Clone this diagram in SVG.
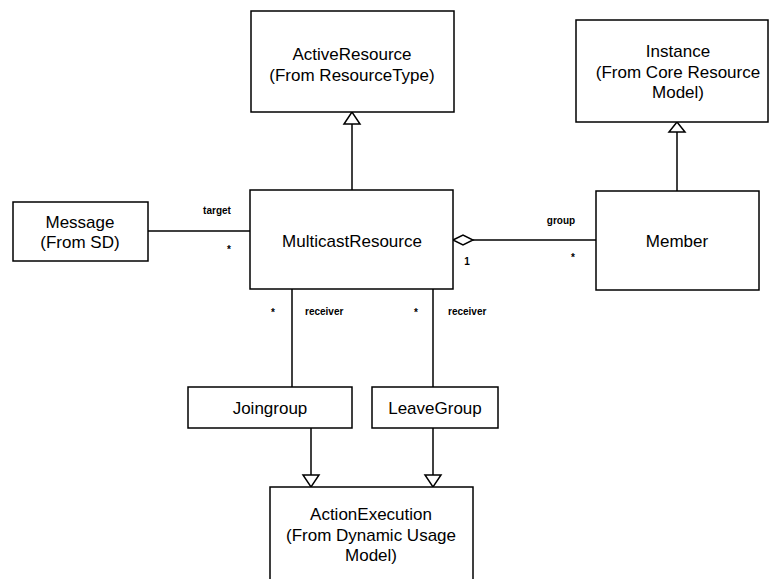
<svg xmlns="http://www.w3.org/2000/svg" width="770" height="579" viewBox="0 0 770 579">
<style>
.box{fill:#fff;stroke:#000;stroke-width:1.5}
.t{font-family:"Liberation Sans",Arial,sans-serif;font-size:17px;fill:#000;text-anchor:middle}
.s{font-family:"Liberation Sans",Arial,sans-serif;font-size:10px;font-weight:bold;fill:#000}
.ln{stroke:#000;stroke-width:1.5;fill:none}
.tri{fill:#fff;stroke:#000;stroke-width:1.5}
</style>
<rect width="770" height="579" fill="#fff"/>
<g id="connectors">
<line class="ln" x1="352" y1="124" x2="352" y2="190"/>
<polygon class="tri" points="352,112 344,124 360,124"/>
<line class="ln" x1="677" y1="132" x2="677" y2="191"/>
<polygon class="tri" points="677,122 669,132 685,132"/>
<line class="ln" x1="148" y1="231" x2="250" y2="231"/>
<line class="ln" x1="473" y1="240" x2="596" y2="240"/>
<polygon class="tri" points="453,240 463,235 473,240 463,245"/>
<line class="ln" x1="292" y1="289" x2="292" y2="387"/>
<line class="ln" x1="433" y1="289" x2="433" y2="387"/>
<line class="ln" x1="311" y1="428" x2="311" y2="475"/>
<polygon class="tri" points="303,475 319,475 311,487"/>
<line class="ln" x1="433" y1="428" x2="433" y2="475"/>
<polygon class="tri" points="425,475 441,475 433,487"/>
<text class="s" x="217" y="214" text-anchor="middle">target</text>
<text class="s" x="229" y="253" text-anchor="middle">*</text>
<text class="s" x="561" y="224" text-anchor="middle">group</text>
<text class="s" x="467" y="265" text-anchor="middle">1</text>
<text class="s" x="573" y="261" text-anchor="middle">*</text>
<text class="s" x="273" y="316" text-anchor="middle">*</text>
<text class="s" x="305" y="315">receiver</text>
<text class="s" x="416" y="316" text-anchor="middle">*</text>
<text class="s" x="448" y="315">receiver</text>
</g>
<g id="activeresource">
<rect class="box" x="251" y="11" width="203" height="101"/>
<text class="t" x="352" y="60">ActiveResource</text>
<text class="t" x="352" y="81">(From ResourceType)</text>
</g>
<g id="instance">
<rect class="box" x="576" y="20" width="192" height="102"/>
<text class="t" x="678" y="57">Instance</text>
<text class="t" x="678" y="78">(From Core Resource</text>
<text class="t" x="678" y="98">Model)</text>
</g>
<g id="message">
<rect class="box" x="13" y="202" width="135" height="59"/>
<text class="t" x="80" y="228">Message</text>
<text class="t" x="80" y="248">(From SD)</text>
</g>
<g id="multicastresource">
<rect class="box" x="250" y="190" width="203" height="99"/>
<text class="t" x="352" y="247">MulticastResource</text>
</g>
<g id="member">
<rect class="box" x="596" y="191" width="163" height="99"/>
<text class="t" x="677" y="247">Member</text>
</g>
<g id="joingroup">
<rect class="box" x="188" y="387" width="164" height="41"/>
<text class="t" x="270" y="414">Joingroup</text>
</g>
<g id="leavegroup">
<rect class="box" x="372" y="387" width="126" height="41"/>
<text class="t" x="435" y="414">LeaveGroup</text>
</g>
<g id="actionexecution">
<rect class="box" x="270" y="487" width="203" height="100"/>
<text class="t" x="371" y="520">ActionExecution</text>
<text class="t" x="371" y="541">(From Dynamic Usage</text>
<text class="t" x="371" y="561">Model)</text>
</g>
</svg>
